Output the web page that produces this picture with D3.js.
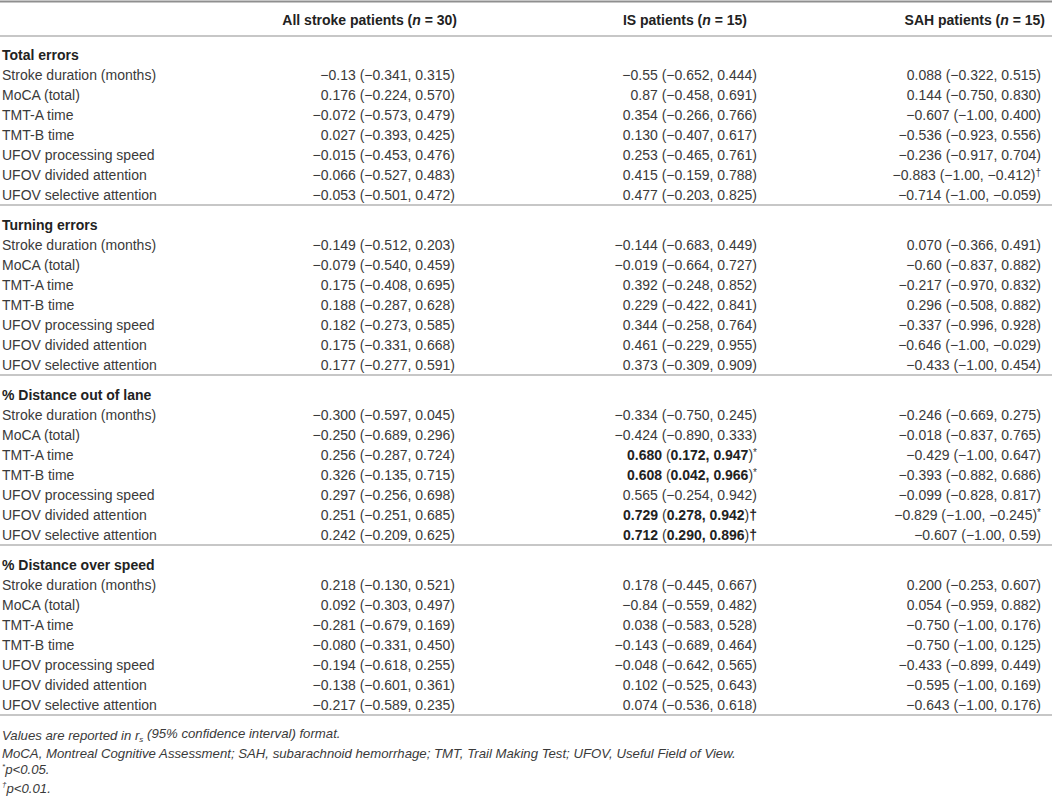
<!DOCTYPE html>
<html><head><meta charset="utf-8">
<script src="https://cdn.jsdelivr.net/npm/d3@7"></script>
<style>
html,body{margin:0;padding:0;background:#fff;}
svg{display:block;font-family:"Liberation Sans",Arial,sans-serif;}
</style></head>
<body>
<svg id="chart" width="1052" height="799"></svg>
<script>
// ---------- DATA ----------
const columns = ["All stroke patients", "IS patients", "SAH patients"];
const columnN = ["30", "15", "15"];
const sections = ["Total errors", "Turning errors", "% Distance out of lane", "% Distance over speed"];
const rowLabels = ["Stroke duration (months)", "MoCA (total)", "TMT-A time", "TMT-B time",
  "UFOV processing speed", "UFOV divided attention", "UFOV selective attention"];

// r_s (lower, upper) per section, per row
const allStroke = [
  ["−0.13 (−0.341, 0.315)", "0.176 (−0.224, 0.570)", "−0.072 (−0.573, 0.479)", "0.027 (−0.393, 0.425)", "−0.015 (−0.453, 0.476)", "−0.066 (−0.527, 0.483)", "−0.053 (−0.501, 0.472)"],
  ["−0.149 (−0.512, 0.203)", "−0.079 (−0.540, 0.459)", "0.175 (−0.408, 0.695)", "0.188 (−0.287, 0.628)", "0.182 (−0.273, 0.585)", "0.175 (−0.331, 0.668)", "0.177 (−0.277, 0.591)"],
  ["−0.300 (−0.597, 0.045)", "−0.250 (−0.689, 0.296)", "0.256 (−0.287, 0.724)", "0.326 (−0.135, 0.715)", "0.297 (−0.256, 0.698)", "0.251 (−0.251, 0.685)", "0.242 (−0.209, 0.625)"],
  ["0.218 (−0.130, 0.521)", "0.092 (−0.303, 0.497)", "−0.281 (−0.679, 0.169)", "−0.080 (−0.331, 0.450)", "−0.194 (−0.618, 0.255)", "−0.138 (−0.601, 0.361)", "−0.217 (−0.589, 0.235)"]
];
const isPatients = [
  ["−0.55 (−0.652, 0.444)", "0.87 (−0.458, 0.691)", "0.354 (−0.266, 0.766)", "0.130 (−0.407, 0.617)", "0.253 (−0.465, 0.761)", "0.415 (−0.159, 0.788)", "0.477 (−0.203, 0.825)"],
  ["−0.144 (−0.683, 0.449)", "−0.019 (−0.664, 0.727)", "0.392 (−0.248, 0.852)", "0.229 (−0.422, 0.841)", "0.344 (−0.258, 0.764)", "0.461 (−0.229, 0.955)", "0.373 (−0.309, 0.909)"],
  ["−0.334 (−0.750, 0.245)", "−0.424 (−0.890, 0.333)", "0.680 (0.172, 0.947)", "0.608 (0.042, 0.966)", "0.565 (−0.254, 0.942)", "0.729 (0.278, 0.942)", "0.712 (0.290, 0.896)"],
  ["0.178 (−0.445, 0.667)", "−0.84 (−0.559, 0.482)", "0.038 (−0.583, 0.528)", "−0.143 (−0.689, 0.464)", "−0.048 (−0.642, 0.565)", "0.102 (−0.525, 0.643)", "0.074 (−0.536, 0.618)"]
];
const sahPatients = [
  ["0.088 (−0.322, 0.515)", "0.144 (−0.750, 0.830)", "−0.607 (−1.00, 0.400)", "−0.536 (−0.923, 0.556)", "−0.236 (−0.917, 0.704)", "−0.883 (−1.00, −0.412)", "−0.714 (−1.00, −0.059)"],
  ["0.070 (−0.366, 0.491)", "−0.60 (−0.837, 0.882)", "−0.217 (−0.970, 0.832)", "0.296 (−0.508, 0.882)", "−0.337 (−0.996, 0.928)", "−0.646 (−1.00, −0.029)", "−0.433 (−1.00, 0.454)"],
  ["−0.246 (−0.669, 0.275)", "−0.018 (−0.837, 0.765)", "−0.429 (−1.00, 0.647)", "−0.393 (−0.882, 0.686)", "−0.099 (−0.828, 0.817)", "−0.829 (−1.00, −0.245)", "−0.607 (−1.00, 0.59)"],
  ["0.200 (−0.253, 0.607)", "0.054 (−0.959, 0.882)", "−0.750 (−1.00, 0.176)", "−0.750 (−1.00, 0.125)", "−0.433 (−0.899, 0.449)", "−0.595 (−1.00, 0.169)", "−0.643 (−1.00, 0.176)"]
];
// significance marks: [column, section, row, mark]
const marks = [
  [2, 0, 5, "†"],
  [1, 2, 2, "*"], [1, 2, 3, "*"], [1, 2, 5, "†"], [1, 2, 6, "†"],
  [2, 2, 5, "*"]
];
const footnotes = [
  "Values are reported in r_s (95% confidence interval) format.",
  "MoCA, Montreal Cognitive Assessment; SAH, subarachnoid hemorrhage; TMT, Trail Making Test; UFOV, Useful Field of View.",
  "*p<0.05.",
  "†p<0.01."
];

// ---------- DRAW ----------
const svg = d3.select("#chart");
const W = 1052;
const colData = [allStroke, isPatients, sahPatients];

const y = d3.scaleLinear().domain([0, 1]).range([55, 75]);   // slot -> y centre
const sectionStart = s => s * 8.5;
const xVal = d3.scaleOrdinal().domain([0, 1, 2]).range([455, 757, 1041]);
const xHead = d3.scaleOrdinal().domain([0, 1, 2]).range([457, 747, 1045]);

const textCol = "#3a3a3a";
const fs = 14;

// rules
svg.append("line").attr("x1", 0).attr("x2", W).attr("y1", 1.5).attr("y2", 1.5)
  .attr("stroke", "#8f8f8f").attr("stroke-width", 2);
svg.append("line").attr("x1", 0).attr("x2", W).attr("y1", 36).attr("y2", 36)
  .attr("stroke", "#b5b5b5").attr("stroke-width", 1.5);
sections.forEach((s, si) => {
  const ly = y(sectionStart(si) + 7.5);
  svg.append("line").attr("x1", 0).attr("x2", W).attr("y1", ly).attr("y2", ly)
    .attr("stroke", "#b5b5b5").attr("stroke-width", 1.5);
});

// header
columns.forEach((c, ci) => {
  const t = svg.append("text").attr("x", xHead(ci)).attr("y", 20).attr("dy", "0.35em")
    .attr("text-anchor", "end").attr("font-size", fs).attr("font-weight", "bold").attr("fill", "#222");
  t.append("tspan").text(c + " (");
  t.append("tspan").attr("font-style", "italic").text("n");
  t.append("tspan").text(" = " + columnN[ci] + ")");
});

// body
sections.forEach((s, si) => {
  svg.append("text").attr("x", 2).attr("y", y(sectionStart(si))).attr("dy", "0.35em")
    .attr("font-size", fs).attr("font-weight", "bold").attr("fill", "#222").text(s);
  rowLabels.forEach((lab, ri) => {
    const yy = y(sectionStart(si) + 1 + ri);
    svg.append("text").attr("x", 2).attr("y", yy).attr("dy", "0.35em")
      .attr("font-size", fs).attr("fill", textCol).text(lab);
    colData.forEach((cd, ci) => {
      const val = cd[si][ri];
      const m = marks.find(d => d[0] === ci && d[1] === si && d[2] === ri);
      const t = svg.append("text").attr("x", xVal(ci)).attr("y", yy).attr("dy", "0.35em")
        .attr("text-anchor", "end").attr("font-size", fs).attr("fill", textCol);
      if (m && ci === 1) {
        const mm = val.match(/^(\S+) \((.*)\)$/);
        t.append("tspan").attr("font-weight", "bold").attr("fill", "#222").text(mm[1]);
        t.append("tspan").text(" (");
        t.append("tspan").attr("font-weight", "bold").attr("fill", "#222").text(mm[2]);
        t.append("tspan").text(")");
        if (m[3] === "†") t.append("tspan").attr("font-weight", "bold").attr("fill", "#222").text("†");
        else t.append("tspan").attr("font-size", 10).attr("dy", "-0.35em").text("*");
      } else {
        t.append("tspan").text(val);
        if (m) t.append("tspan").attr("font-size", 10).attr("dy", "-0.35em").text(m[3]);
      }
    });
  });
});

// footnotes
const fy = d3.scaleLinear().domain([0, 1]).range([735, 753.5]);
footnotes.forEach((f, i) => {
  const t = svg.append("text").attr("x", 2).attr("y", fy(i)).attr("dy", "0.35em")
    .attr("font-size", 13.2).attr("font-style", "italic").attr("fill", textCol);
  if (f.includes("r_s")) {
    const parts = f.split("r_s");
    t.append("tspan").text(parts[0] + "r");
    t.append("tspan").attr("font-size", 8).attr("dy", "0.3em").text("s");
    t.append("tspan").attr("dy", "-0.3em").text(parts[1]);
  } else if (f[0] === "*" || f[0] === "†") {
    t.append("tspan").attr("font-size", 8).attr("dy", "-0.4em").text(f[0]);
    t.append("tspan").attr("dy", "0.4em").text(f.slice(1));
  } else {
    t.text(f);
  }
});
</script>
</body></html>
